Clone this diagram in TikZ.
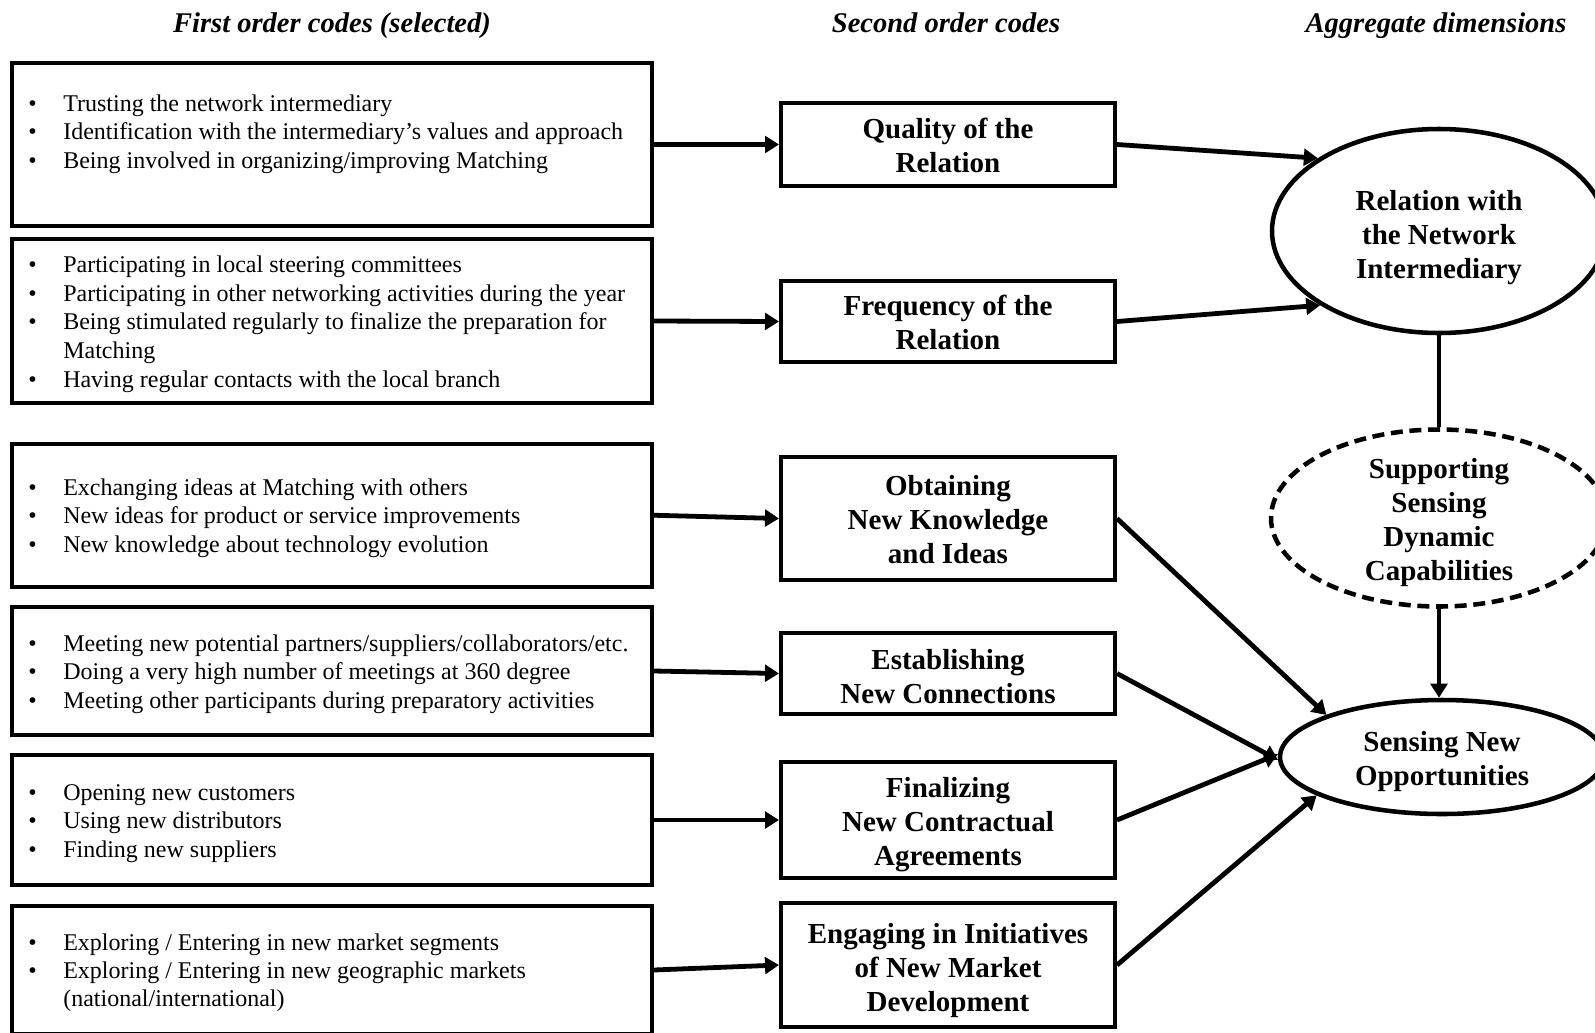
\documentclass[tikz,border=0pt]{standalone}
\usepackage{fontspec}
\setmainfont{Liberation Serif}
\usetikzlibrary{arrows.meta,fit,shapes.geometric}

% bullet lines of the first-order code lists
\newcommand\codeline[1]{\par\noindent\makebox[26.25pt][l]{\textbullet}#1}
\newcommand\codecont[1]{\par\noindent\hspace*{26.25pt}#1}
% invisible strut on a first line: lowers a centred block of lines by #1
\newcommand\dropblock[1]{\rule{0pt}{\dimexpr 0.7em+#1*2\relax}}

\tikzset{
  heading/.style={font=\fontsize{21.4pt}{25pt}\selectfont\bfseries\itshape, anchor=base, inner sep=0pt},
  codebox/.style={draw, line width=3pt, inner sep=0pt},
  codetext/.style={anchor=base west, inner sep=0pt, font=\fontsize{18pt}{21.55pt}\selectfont},
  theme/.style={draw, line width=3pt, inner sep=0pt, align=center,
    minimum width=334*0.75pt, font=\fontsize{21.75pt}{25.5pt}\selectfont\bfseries},
  dimension/.style={ellipse, draw, line width=3.4pt, inner sep=-14pt, align=center,
    font=\fontsize{21.75pt}{25.5pt}\selectfont\bfseries},
  link/.style={line width=3.6pt, -{Triangle[length=10.5pt,width=12.5pt]}},
}

\begin{document}
\begin{tikzpicture}[x=0.75pt, y=-0.75pt]
\useasboundingbox (0,0) rectangle (1595,1032);
\clip (0,0) rectangle (1595,1032);

% column headings
\node[heading] (h1) at (332,32) {First order codes (selected)};
\node[heading] (h2) at (946,32) {Second order codes};
\node[heading] (h3) at (1436,32) {Aggregate dimensions};

% first-order code boxes
\node[codebox, fit={(12,63)(652,226)}] (f1) {};
\node[codebox, fit={(12,239)(652,403)}] (f2) {};
\node[codebox, fit={(12,443.5)(652,587)}] (f3) {};
\node[codebox, fit={(12,607)(652,735)}] (f4) {};
\node[codebox, fit={(12,755)(652,885)}] (f5) {};
\node[codebox, fit={(12,906)(652,1034)}] (f6) {};

\node[codetext] (t1) at (28,111) {\parbox[t]{460pt}{%
  \codeline{Trusting the network intermediary}
  \codeline{Identification with the intermediary’s values and approach}
  \codeline{Being involved in organizing/improving Matching}}};
\node[codetext] (t2) at (28,272.5) {\parbox[t]{460pt}{%
  \codeline{Participating in local steering committees}
  \codeline{Participating in other networking activities during the year}
  \codeline{Being stimulated regularly to finalize the preparation for}
  \codecont{Matching}
  \codeline{Having regular contacts with the local branch}}};
\node[codetext] (t3) at (28,495) {\parbox[t]{460pt}{%
  \codeline{Exchanging ideas at Matching with others}
  \codeline{New ideas for product or service improvements}
  \codeline{New knowledge about technology evolution}}};
\node[codetext] (t4) at (28,651) {\parbox[t]{460pt}{%
  \codeline{Meeting new potential partners/suppliers/collaborators/etc.}
  \codeline{Doing a very high number of meetings at 360 degree}
  \codeline{Meeting other participants during preparatory activities}}};
\node[codetext] (t5) at (28,800) {\parbox[t]{460pt}{%
  \codeline{Opening new customers}
  \codeline{Using new distributors}
  \codeline{Finding new suppliers}}};
\node[codetext, font=\fontsize{18pt}{21.2pt}\selectfont] (t6) at (28,950) {\parbox[t]{460pt}{%
  \codeline{Exploring / Entering in new market segments}
  \codeline{Exploring / Entering in new geographic markets}
  \codecont{(national/international)}}};

% second-order codes
\node[theme, minimum height=83*0.75pt] (m1) at (948,144.5) {\dropblock{0.75pt}Quality of the\\Relation};
\node[theme, minimum height=81*0.75pt] (m2) at (948,321.5) {\dropblock{0.75pt}Frequency of the\\Relation};
\node[theme, minimum height=123*0.75pt] (m3) at (948,518.5) {\dropblock{0.5pt}Obtaining\\New Knowledge\\and Ideas};
\node[theme, minimum height=81*0.75pt] (m4) at (948,673.5) {\dropblock{2.25pt}Establishing\\New Connections};
\node[theme, minimum height=116*0.75pt] (m5) at (948,820) {\dropblock{3.75pt}Finalizing\\New Contractual\\Agreements};
\node[theme, minimum height=124*0.75pt] (m6) at (948,965) {\dropblock{4pt}Engaging in Initiatives\\of New Market\\Development};

% aggregate dimensions
\node[dimension, minimum width=334*0.75pt, minimum height=204*0.75pt] (e1) at (1439,231)
  {\dropblock{4.5pt}Relation with\\the Network\\Intermediary};
\node[dimension, dash pattern=on 9pt off 5pt, minimum width=336*0.75pt, minimum height=177*0.75pt] (e2) at (1439,518)
  {\dropblock{3.4pt}Supporting\\Sensing\\Dynamic\\Capabilities};
\node[dimension, minimum width=324*0.75pt, minimum height=114*0.75pt] (e3) at (1442,757)
  {\dropblock{3pt}Sensing New\\Opportunities};

% first-order codes to second-order codes
\draw[link] (f1.east) -- (m1.west);
\draw[link] (f2.east) -- (m2.west);
\draw[link] (f3.east) -- (m3.west);
\draw[link] (f4.east) -- (m4.west);
\draw[link] (f5.east) -- (m5.west);
\draw[link] (f6.east) -- (m6.west);

% second-order codes to aggregate dimensions
\draw[link] (m1.east) -- (e1.149.5);
\draw[link] (m2.east) -- (e1.212);
\draw[link] (m3.east) -- (e3.160);
\draw[link] (m4.east) -- (e3.181);
\draw[link] (m5.east) -- (e3.179);
\draw[link] (m6.east) -- (e3.197);

% between aggregate dimensions
\draw[line width=3.6pt] (e1.south) -- (e2.north);
\draw[link] (e2.south) -- (e2.south |- e3.north);
\end{tikzpicture}
\end{document}
